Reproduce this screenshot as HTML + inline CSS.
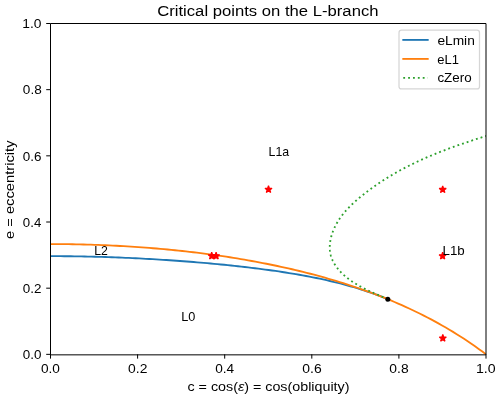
<!DOCTYPE html>
<html><head><meta charset="utf-8"><style>html,body{margin:0;padding:0;background:#fff;}svg{display:block;will-change:transform;}text{font-family:"Liberation Sans",sans-serif;fill:#000;}</style></head><body>
<svg width="500" height="399" viewBox="0 0 500 399">
<rect width="500" height="399" fill="#fff"/>
<defs><clipPath id="ax"><rect x="50.5" y="23.5" width="435.5" height="330.85"/></clipPath></defs>
<g clip-path="url(#ax)" fill="none" stroke-width="1.84" stroke-linejoin="round">
<path d="M50.5 256.17 L53.91 256.17 L57.31 256.18 L60.72 256.2 L64.13 256.22 L67.54 256.26 L70.94 256.29 L74.35 256.34 L77.76 256.39 L81.17 256.45 L84.57 256.51 L87.98 256.58 L91.39 256.66 L94.8 256.74 L98.2 256.84 L101.61 256.93 L105.02 257.04 L108.43 257.15 L111.83 257.27 L115.24 257.39 L118.65 257.52 L122.06 257.66 L125.46 257.8 L128.87 257.95 L132.28 258.11 L135.69 258.27 L139.09 258.44 L142.5 258.62 L145.91 258.8 L149.32 258.99 L152.72 259.18 L156.13 259.39 L159.54 259.59 L162.95 259.81 L166.35 260.03 L169.76 260.25 L173.17 260.49 L176.58 260.73 L179.98 260.97 L183.39 261.23 L186.8 261.48 L190.21 261.75 L193.61 262.02 L197.02 262.3 L200.43 262.59 L203.83 262.88 L207.24 263.18 L210.65 263.49 L214.06 263.8 L217.46 264.13 L220.87 264.46 L224.28 264.79 L227.69 265.14 L231.09 265.49 L234.5 265.85 L237.91 266.22 L241.32 266.6 L244.72 266.99 L248.13 267.39 L251.54 267.8 L254.95 268.22 L258.35 268.65 L261.76 269.09 L265.17 269.54 L268.58 270 L271.98 270.47 L275.39 270.96 L278.8 271.46 L282.21 271.98 L285.61 272.5 L289.02 273.05 L292.43 273.61 L295.84 274.18 L299.24 274.77 L302.65 275.38 L306.06 276.01 L309.47 276.66 L312.87 277.32 L316.28 278.01 L319.69 278.72 L323.1 279.45 L326.5 280.2 L329.91 280.98 L333.32 281.79 L336.73 282.62 L340.13 283.48 L343.54 284.37 L346.95 285.29 L350.35 286.24 L353.76 287.22 L357.17 288.24 L360.58 289.29 L363.98 290.38 L367.39 291.51 L370.8 292.69 L374.21 293.9 L377.61 295.16 L381.02 296.46 L384.43 297.81 L387.84 299.21" stroke="#1f77b4" stroke-linecap="square"/>
<path d="M50.5 244.07 L54.16 244.07 L57.82 244.09 L61.48 244.11 L65.14 244.15 L68.8 244.2 L72.46 244.25 L76.12 244.32 L79.78 244.4 L83.44 244.49 L87.1 244.59 L90.76 244.7 L94.42 244.82 L98.08 244.95 L101.74 245.09 L105.39 245.24 L109.05 245.4 L112.71 245.58 L116.37 245.76 L120.03 245.96 L123.69 246.16 L127.35 246.38 L131.01 246.61 L134.67 246.85 L138.33 247.1 L141.99 247.36 L145.65 247.63 L149.31 247.92 L152.97 248.21 L156.63 248.52 L160.29 248.84 L163.95 249.17 L167.61 249.51 L171.27 249.87 L174.93 250.24 L178.59 250.62 L182.25 251.01 L185.91 251.41 L189.57 251.83 L193.23 252.26 L196.89 252.7 L200.55 253.15 L204.21 253.62 L207.87 254.1 L211.53 254.6 L215.18 255.11 L218.84 255.63 L222.5 256.16 L226.16 256.71 L229.82 257.28 L233.48 257.86 L237.14 258.45 L240.8 259.06 L244.46 259.68 L248.12 260.32 L251.78 260.98 L255.44 261.65 L259.1 262.33 L262.76 263.03 L266.42 263.75 L270.08 264.49 L273.74 265.24 L277.4 266.01 L281.06 266.8 L284.72 267.6 L288.38 268.42 L292.04 269.27 L295.7 270.13 L299.36 271.01 L303.02 271.91 L306.68 272.82 L310.34 273.76 L314 274.72 L317.66 275.7 L321.32 276.7 L324.97 277.73 L328.63 278.77 L332.29 279.84 L335.95 280.93 L339.61 282.05 L343.27 283.19 L346.93 284.35 L350.59 285.54 L354.25 286.76 L357.91 288 L361.57 289.26 L365.23 290.56 L368.89 291.88 L372.55 293.24 L376.21 294.62 L379.87 296.03 L383.53 297.47 L387.19 298.94 L390.85 300.45 L394.51 301.99 L398.17 303.56 L401.83 305.17 L405.49 306.81 L409.15 308.49 L412.81 310.21 L416.47 311.97 L420.13 313.76 L423.79 315.6 L427.45 317.48 L431.11 319.4 L434.76 321.37 L438.42 323.38 L442.08 325.44 L445.74 327.54 L449.4 329.7 L453.06 331.91 L456.72 334.17 L460.38 336.48 L464.04 338.85 L467.7 341.28 L471.36 343.77 L475.02 346.31 L478.68 348.93 L482.34 351.6 L486 354.35" stroke="#ff7f0e" stroke-linecap="square"/>
<path d="M387.5 299.24 L385.07 298.09 L382.6 296.95 L380.1 295.83 L377.57 294.7 L375.02 293.56 L372.45 292.41 L369.87 291.23 L367.29 290.02 L364.71 288.76 L362.15 287.45 L359.6 286.08 L357.08 284.64 L354.59 283.12 L352.13 281.52 L349.72 279.82 L347.37 278.03 L345.09 276.15 L342.91 274.18 L340.84 272.13 L338.9 270 L337.1 267.79 L335.46 265.51 L334 263.15 L332.73 260.72 L331.67 258.23 L330.83 255.67 L330.24 253.05 L329.88 250.39 L329.75 247.68 L329.82 244.95 L330.1 242.2 L330.57 239.44 L331.21 236.69 L332.02 233.96 L332.98 231.26 L334.09 228.6 L335.33 225.98 L336.69 223.44 L338.16 220.96 L339.73 218.56 L341.39 216.23 L343.14 213.97 L344.97 211.76 L346.87 209.62 L348.83 207.53 L350.86 205.5 L352.93 203.51 L355.05 201.56 L357.21 199.66 L359.39 197.8 L361.6 195.97 L363.83 194.17 L366.08 192.4 L368.35 190.67 L370.63 188.96 L372.94 187.29 L375.26 185.65 L377.6 184.04 L379.96 182.45 L382.33 180.89 L384.72 179.37 L387.13 177.86 L389.55 176.39 L391.99 174.94 L394.45 173.52 L396.91 172.12 L399.39 170.75 L401.89 169.4 L404.4 168.08 L406.92 166.78 L409.45 165.5 L412 164.24 L414.55 163.01 L417.12 161.79 L419.7 160.6 L422.29 159.43 L424.89 158.27 L427.49 157.14 L430.11 156.02 L432.74 154.92 L435.37 153.84 L438.01 152.78 L440.66 151.73 L443.32 150.7 L445.98 149.68 L448.65 148.68 L451.32 147.69 L454 146.72 L456.69 145.75 L459.38 144.81 L462.07 143.87 L464.77 142.95 L467.47 142.03 L470.17 141.13 L472.88 140.24 L475.59 139.36 L478.3 138.48 L481.01 137.62 L483.72 136.76 L485.75 136.12 L488 135.2" stroke="#2ca02c" stroke-linecap="butt" stroke-dasharray="1.84 3.04" stroke-dashoffset="0.22"/>
</g>
<g clip-path="url(#ax)" fill="#f00" stroke="#f00" stroke-width="1.25" stroke-linejoin="bevel">
<path d="M268.5 185.74 L267.67 188.3 L264.98 188.3 L267.16 189.88 L266.33 192.43 L268.5 190.85 L270.67 192.43 L269.84 189.88 L272.02 188.3 L269.33 188.3Z"/>
<path d="M442.7 185.9 L441.87 188.46 L439.18 188.46 L441.36 190.04 L440.53 192.59 L442.7 191.01 L444.87 192.59 L444.04 190.04 L446.22 188.46 L443.53 188.46Z"/>
<path d="M211.7 252.3 L210.87 254.86 L208.18 254.86 L210.36 256.44 L209.53 258.99 L211.7 257.41 L213.87 258.99 L213.04 256.44 L215.22 254.86 L212.53 254.86Z"/>
<path d="M216.1 252.3 L215.27 254.86 L212.58 254.86 L214.76 256.44 L213.93 258.99 L216.1 257.41 L218.27 258.99 L217.44 256.44 L219.62 254.86 L216.93 254.86Z"/>
<path d="M442.6 252.3 L441.77 254.86 L439.08 254.86 L441.26 256.44 L440.43 258.99 L442.6 257.41 L444.77 258.99 L443.94 256.44 L446.12 254.86 L443.43 254.86Z"/>
<path d="M442.8 334.5 L441.97 337.06 L439.28 337.06 L441.46 338.64 L440.63 341.19 L442.8 339.61 L444.97 341.19 L444.14 338.64 L446.32 337.06 L443.63 337.06Z"/>
</g>
<circle cx="387.84" cy="299.21" r="2.5" fill="#000"/>
<g stroke="#000" stroke-width="1" fill="none" stroke-linecap="square">
<path d="M50.5 354.35 L50.5 23.5 L486.0 23.5 L486.0 354.35 Z" stroke-linejoin="miter"/>
<path d="M50.5 354.35 L50.5 358.64 M50.5 354.35 L46.21 354.35 M137.6 354.35 L137.6 358.64 M50.5 288.18 L46.21 288.18 M224.7 354.35 L224.7 358.64 M50.5 222.01 L46.21 222.01 M311.8 354.35 L311.8 358.64 M50.5 155.84 L46.21 155.84 M398.9 354.35 L398.9 358.64 M50.5 89.67 L46.21 89.67 M486 354.35 L486 358.64 M50.5 23.5 L46.21 23.5" stroke-linecap="butt"/>
</g>
<rect x="399.0" y="30.2" width="80.5" height="58.7" rx="2.5" ry="2.5" fill="#fff" fill-opacity="0.8" stroke="#d6d6d6" stroke-width="1.25"/>
<path d="M403.25 39.9 L427.75 39.9" stroke="#1f77b4" stroke-width="1.84" stroke-linecap="square"/>
<path d="M403.25 58.9 L427.75 58.9" stroke="#ff7f0e" stroke-width="1.84" stroke-linecap="square"/>
<path d="M403.25 77.9 L427.75 77.9" stroke="#2ca02c" stroke-width="1.84" stroke-linecap="butt" stroke-dasharray="1.84 3.03"/>
<text x="157.2" y="16.2" font-size="15.4" textLength="221.31" lengthAdjust="spacingAndGlyphs">Critical points on the L-branch</text>
<text x="40.96" y="372.6" font-size="12.8" textLength="19.02" lengthAdjust="spacingAndGlyphs">0.0</text>
<text x="22.86" y="359.15" font-size="12.8" textLength="18.64" lengthAdjust="spacingAndGlyphs">0.0</text>
<text x="128.07" y="372.6" font-size="12.8" textLength="19.31" lengthAdjust="spacingAndGlyphs">0.2</text>
<text x="22.83" y="292.98" font-size="12.8" textLength="18.67" lengthAdjust="spacingAndGlyphs">0.2</text>
<text x="215.2" y="372.6" font-size="12.8" textLength="18.98" lengthAdjust="spacingAndGlyphs">0.4</text>
<text x="22.86" y="226.81" font-size="12.8" textLength="18.38" lengthAdjust="spacingAndGlyphs">0.4</text>
<text x="302.28" y="372.6" font-size="12.8" textLength="19.38" lengthAdjust="spacingAndGlyphs">0.6</text>
<text x="22.83" y="160.64" font-size="12.8" textLength="18.67" lengthAdjust="spacingAndGlyphs">0.6</text>
<text x="389.38" y="372.6" font-size="12.8" textLength="19.26" lengthAdjust="spacingAndGlyphs">0.8</text>
<text x="22.85" y="94.47" font-size="12.8" textLength="18.84" lengthAdjust="spacingAndGlyphs">0.8</text>
<text x="475.98" y="372.6" font-size="12.8" textLength="19.65" lengthAdjust="spacingAndGlyphs">1.0</text>
<text x="22.25" y="28.3" font-size="12.8" textLength="19.19" lengthAdjust="spacingAndGlyphs">1.0</text>
<text x="187.48" y="391.4" font-size="12.8" textLength="161.98" lengthAdjust="spacingAndGlyphs">c = cos(<tspan font-style="italic">ε</tspan>) = cos(obliquity)</text>
<text x="14.3" y="239.04" font-size="12.8" textLength="98.55" lengthAdjust="spacingAndGlyphs" transform="rotate(-90 14.3 239.04)">e = eccentricity</text>
<text x="268.54" y="155.84" font-size="12.8" textLength="20.6" lengthAdjust="spacingAndGlyphs">L1a</text>
<text x="94.23" y="255.1" font-size="12.8" textLength="13.64" lengthAdjust="spacingAndGlyphs">L2</text>
<text x="442.53" y="255.2" font-size="12.8" textLength="22.18" lengthAdjust="spacingAndGlyphs">L1b</text>
<text x="181.21" y="321" font-size="12.8" textLength="14.14" lengthAdjust="spacingAndGlyphs">L0</text>
<text x="437.42" y="44.75" font-size="12.8" textLength="37.4" lengthAdjust="spacingAndGlyphs">eLmin</text>
<text x="437.32" y="63.5" font-size="12.8" textLength="21.68" lengthAdjust="spacingAndGlyphs">eL1</text>
<text x="437.43" y="82.1" font-size="12.8" textLength="34.22" lengthAdjust="spacingAndGlyphs">cZero</text>
</svg></body></html>
